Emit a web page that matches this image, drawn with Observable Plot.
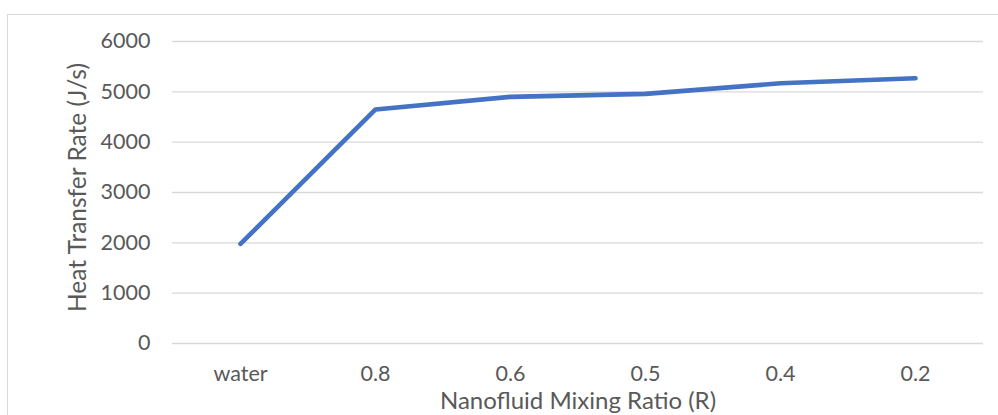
<!DOCTYPE html>
<html>
<head>
<meta charset="utf-8">
<script src="https://cdn.jsdelivr.net/npm/d3@7"></script>
<script src="https://cdn.jsdelivr.net/npm/@observablehq/plot@0.6"></script>
<style>
  html, body { margin: 0; padding: 0; background: #fff; overflow: hidden; }
  #wrap { position: relative; width: 998px; height: 415px; }
  #border { position: absolute; left: 7px; top: 14px; width: 1200px; height: 600px;
            border: 1.5px solid #d9d9d9; box-sizing: border-box; }
  #chart { position: absolute; left: 0; top: 0; }
</style>
</head>
<body>
<div id="wrap"><div id="border"></div><div id="chart"></div></div>
<script>
const categories = ["water", "0.8", "0.6", "0.5", "0.4", "0.2"];
const heatRate = [1980, 4650, 4900, 4960, 5170, 5270];
const yTicks = [0, 1000, 2000, 3000, 4000, 5000, 6000];
const xTitle = "Nanofluid Mixing Ratio (R)";
const yTitle = "Heat Transfer Rate (J/s)";

const data = categories.map((c, i) => ({cat: c, value: heatRate[i]}));
const font = "Lato, 'Open Sans', sans-serif";
const textColor = "#595959";

const chart = Plot.plot({
  width: 998,
  height: 415,
  marginLeft: 172,
  marginRight: 15,
  marginTop: 41,
  marginBottom: 72,
  style: {fontFamily: font, background: "transparent", overflow: "visible"},
  x: {type: "point", domain: categories, padding: 0.5},
  y: {domain: [0, 6000]},
  marks: [
    Plot.gridY(yTicks, {stroke: "#d9d9d9", strokeOpacity: 1, strokeWidth: 1.4}),
    Plot.axisY(yTicks, {tickSize: 0, tickPadding: 22, fontSize: 21.5, fill: textColor, label: null, tickFormat: d => String(d)}),
    Plot.axisX({tickSize: 0, tickPadding: 22, fontSize: 21.5, fill: textColor, label: null}),
    Plot.line(data, {x: "cat", y: "value", stroke: "#4472C4", strokeWidth: 4.6, strokeLinecap: "round", strokeLinejoin: "round"}),
    Plot.text([xTitle], {frameAnchor: "bottom", dy: 58, fontSize: 24, fill: textColor, lineAnchor: "middle", textAnchor: "middle"}),
    Plot.text([yTitle], {frameAnchor: "left", dx: -94, dy: -5, rotate: -90, fontSize: 24.5, fill: textColor, lineAnchor: "middle", textAnchor: "middle"})
  ]
});
document.getElementById("chart").appendChild(chart);
</script>
</body>
</html>
